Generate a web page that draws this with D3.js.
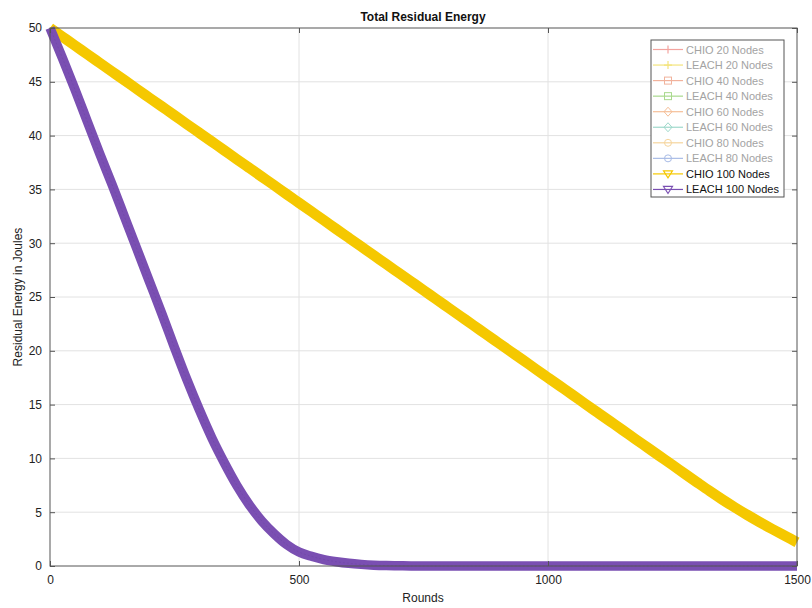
<!DOCTYPE html>
<html><head><meta charset="utf-8">
<script src="https://cdn.jsdelivr.net/npm/d3@7"></script>
<style>body{margin:0;background:#fff}svg{display:block}text{font-family:"Liberation Sans",Arial,sans-serif}</style>
</head><body>
<svg id="c" width="812" height="608"></svg>
<script>
const rounds = [0,25,50,75,100,125,150,175,200,225,250,275,300,325,350,375,400,425,450,475,500,525,550,575,600,625,650,675,700,725,750,775,800,825,850,875,900,925,950,975,1000,1025,1050,1075,1100,1125,1150,1175,1200,1225,1250,1275,1300,1325,1350,1375,1400,1425,1450,1475,1500];
const chio100 = [50,49.19,48.38,47.56,46.75,45.94,45.13,44.31,43.5,42.69,41.88,41.06,40.25,39.44,38.63,37.81,37.0,36.19,35.38,34.56,33.75,32.94,32.13,31.31,30.5,29.69,28.88,28.06,27.25,26.44,25.63,24.81,24.0,23.19,22.38,21.56,20.75,19.94,19.13,18.31,17.5,16.69,15.88,15.06,14.25,13.44,12.63,11.81,11.0,10.19,9.38,8.56,7.75,6.95,6.18,5.45,4.75,4.08,3.44,2.82,2.2];
const leach100 = [50,47.2,44.3,41.3,38.3,35.4,32.4,29.4,26.4,23.4,20.3,17.3,14.5,11.9,9.6,7.5,5.7,4.2,3.0,2.0,1.3,0.9,0.6,0.4,0.25,0.15,0.08,0.04,0.02,0,0,0,0,0,0,0,0,0,0,0,0,0,0,0,0,0,0,0,0,0,0,0,0,0,0,0,0,0,0,0,0];
const xTicks = [0,500,1000,1500];
const yTicks = [0,5,10,15,20,25,30,35,40,45,50];
const legendNames = ["CHIO 20 Nodes","LEACH 20 Nodes","CHIO 40 Nodes","LEACH 40 Nodes","CHIO 60 Nodes","LEACH 60 Nodes","CHIO 80 Nodes","LEACH 80 Nodes","CHIO 100 Nodes","LEACH 100 Nodes"];
const legendColors = ["#f3a49f","#f3e37c","#f1b29c","#a9d98d","#f5bf98","#9fd9cb","#f6d59d","#a9bce6","#f5c800","#7a4fb2"];
const legendMarkers = ["plus","plus","square","square","diamond","diamond","circle","circle","tri","tri"];
const legendActive = [false,false,false,false,false,false,false,false,true,true];

const svg = d3.select("#c");
const L=50,R=797,T=28,B=566;
const x = d3.scaleLinear().domain([0,1500]).range([L,R]);
const y = d3.scaleLinear().domain([0,50]).range([B,T]);

// grid
svg.append("g").selectAll("line").data(yTicks.filter(d=>d>0&&d<50)).join("line")
  .attr("x1",L).attr("x2",R).attr("y1",d=>y(d)).attr("y2",d=>y(d)).attr("stroke","#e2e2e2");
svg.append("g").selectAll("line").data(xTicks.filter(d=>d>0&&d<1500)).join("line")
  .attr("y1",T).attr("y2",B).attr("x1",d=>x(d)).attr("x2",d=>x(d)).attr("stroke","#e2e2e2");

// lines
const line = d3.line().x((d,i)=>x(rounds[i])).y(d=>y(d)).curve(d3.curveMonotoneX);
svg.append("path").datum(chio100).attr("d",line).attr("fill","none").attr("stroke","#f5c800").attr("stroke-width",10.5).attr("stroke-linejoin","round");
svg.append("path").datum(leach100).attr("d",line).attr("fill","none").attr("stroke","#7a4fb2").attr("stroke-width",9.5).attr("stroke-linejoin","round");
svg.append("path").datum(leach100).attr("d",line).attr("fill","none").attr("stroke","#6a42a0").attr("stroke-width",1).attr("stroke-dasharray","2,2").attr("opacity",0.4);

// axes box
const ax = "#555";
svg.append("rect").attr("x",L).attr("y",T).attr("width",R-L).attr("height",B-T).attr("fill","none").attr("stroke",ax).attr("stroke-width",1);
const gx = svg.append("g").attr("transform",`translate(0,${B})`).call(d3.axisBottom(x).tickValues(xTicks).tickSize(-5).tickPadding(9).tickFormat(d3.format("d")));
const gxt = svg.append("g").attr("transform",`translate(0,${T})`).call(d3.axisTop(x).tickValues(xTicks).tickSize(-5).tickFormat(""));
const gy = svg.append("g").attr("transform",`translate(${L},0)`).call(d3.axisLeft(y).tickValues(yTicks).tickSize(-5).tickPadding(8));
const gyr = svg.append("g").attr("transform",`translate(${R},0)`).call(d3.axisRight(y).tickValues(yTicks).tickSize(-5).tickFormat(""));
[gx,gxt,gy,gyr].forEach(g=>{g.select(".domain").remove();g.selectAll("line").attr("stroke",ax);g.selectAll("text").attr("fill","#222").style("font-size","12px").style("font-family","'Liberation Sans',Arial,sans-serif");});

// titles
svg.append("text").attr("x",423).attr("y",21).attr("text-anchor","middle").style("font-size","12px").style("font-weight","bold").attr("fill","#111").text("Total Residual Energy");
svg.append("text").attr("x",423).attr("y",602).attr("text-anchor","middle").style("font-size","12px").attr("fill","#222").text("Rounds");
svg.append("text").attr("transform","translate(22,297) rotate(-90)").attr("text-anchor","middle").style("font-size","12px").attr("fill","#222").text("Residual Energy in Joules");

// legend
const lg = svg.append("g");
lg.append("rect").attr("x",651).attr("y",40).attr("width",133).attr("height",157).attr("fill","#fff").attr("stroke","#555");
legendNames.forEach((n,i)=>{
  const cy = 49.5 + i*15.55, c = legendColors[i];
  const g = lg.append("g");
  g.append("line").attr("x1",653).attr("x2",683).attr("y1",cy).attr("y2",cy).attr("stroke",c).attr("stroke-width",1.2);
  const m = legendMarkers[i], mx=668;
  if(m==="plus"){g.append("path").attr("d",`M${mx-4},${cy}H${mx+4}M${mx},${cy-4}V${cy+4}`).attr("stroke",c).attr("stroke-width",1.2);}
  else if(m==="square"){g.append("rect").attr("x",mx-3.5).attr("y",cy-3.5).attr("width",7).attr("height",7).attr("fill","none").attr("stroke",c);}
  else if(m==="diamond"){g.append("path").attr("d",`M${mx},${cy-4.5}L${mx+4},${cy}L${mx},${cy+4.5}L${mx-4},${cy}Z`).attr("fill","none").attr("stroke",c);}
  else if(m==="circle"){g.append("circle").attr("cx",mx).attr("cy",cy).attr("r",3.5).attr("fill","none").attr("stroke",c);}
  else {g.append("path").attr("d",`M${mx-4.5},${cy-3}L${mx+4.5},${cy-3}L${mx},${cy+4}Z`).attr("fill","none").attr("stroke",c).attr("stroke-width",1.2);}
  g.append("text").attr("x",686).attr("y",cy+4).style("font-size","11px").attr("fill",legendActive[i]?"#111":"#a3a3a3").text(n);
});
</script>
</body></html>
